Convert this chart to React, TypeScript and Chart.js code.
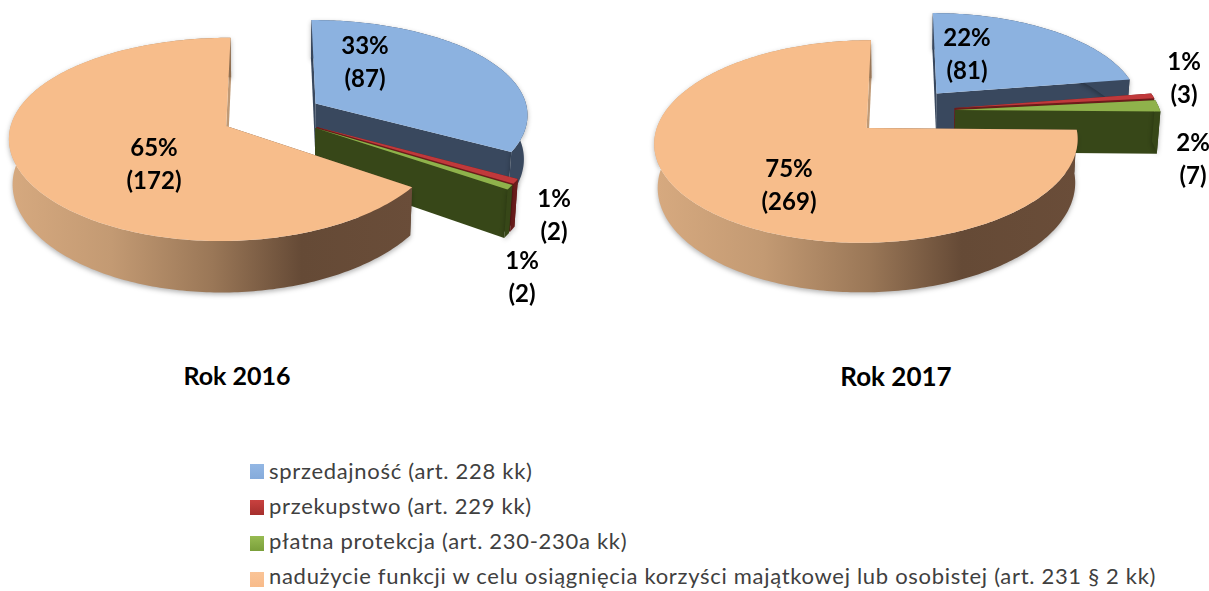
import React, { useEffect, useRef } from "react";
import { Chart, registerables } from "chart.js";

Chart.register(...registerables);

const categories = [
  "sprzedajność (art. 228 kk)",
  "przekupstwo (art. 229 kk)",
  "płatna protekcja (art. 230-230a kk)",
  "nadużycie funkcji w celu osiągnięcia korzyści majątkowej lub osobistej (art. 231 § 2 kk)",
];
const values2016 = [87, 2, 2, 172];
const values2017 = [81, 3, 7, 269];
const percents2016 = [33, 1, 1, 65];
const percents2017 = [22, 1, 2, 75];
const titles = ["Rok 2016", "Rok 2017"];

const topColors = ["#8cb2e0", "#c0393b", "#8fb24b", "#f7bd8b"];
const wallColors = ["#39485e", "#6b1c1b", "#374718", "#c09a76"];
const swatches = [
  "linear-gradient(#93b7e4,#85abdb)",
  "linear-gradient(#c9413f,#a52f2d)",
  "linear-gradient(#97bb52,#7a9f3a)",
  "linear-gradient(#fac497,#f8bb8a)",
];
const rimStops: [number, string][] = [
  [0, "#d6a97f"],
  [0.25, "#c39a73"],
  [0.5, "#9a7757"],
  [0.72, "#654a36"],
  [1, "#6a4d39"],
];

type View = {
  cx: number; cy: number; R: number; A: number; b: number; d: number; k: number; e: number; xp: number;
  rimFrom: number; rimTo: number;
  labels: [number, number][];
};

const view2016: View = {
  cx: 272, cy: 115, R: 213, A: 97, b: 0.13, d: 44, k: 0.014, e: 0.24, xp: 0.8,
  rimFrom: 10, rimTo: 415,
  labels: [[365, 46], [554, 199], [522, 261], [154, 148]],
};
const view2017: View = {
  cx: 904 - 604, cy: 111, R: 205, A: 95, b: 0.13, d: 42, k: 0.014, e: 0.25, xp: 1,
  rimFrom: 54, rimTo: 476,
  labels: [[363, 38], [580, 62], [589, 143], [185, 169]],
};

const labelFont = "bold 24px Lato, Carlito, sans-serif";

function makePlugin(view: View, percents: number[]) {
  const project = (X: number, Y: number, z: number): [number, number] => {
    const P = 1 / (1 - view.b * Y);
    return [
      view.cx + view.R * X * Math.pow(P, view.xp) * (1 - view.k * z),
      view.cy + view.A * Y * P + view.d * z * P,
    ];
  };
  return {
    id: "pie3d",
    beforeDatasetsDraw(chart: any) {
      const ctx: CanvasRenderingContext2D = chart.ctx;
      const meta = chart.getDatasetMeta(0);
      meta.data.forEach((arc: any, i: number) => {
        const { startAngle, endAngle } = arc.getProps(["startAngle", "endAngle"], true);
        const mid = (startAngle + endAngle) / 2;
        const ox = view.e * Math.cos(mid);
        const oy = view.e * Math.sin(mid);
        const n = Math.max(4, Math.ceil((endAngle - startAngle) * 60));
        const edge = (z: number) => {
          const pts: [number, number][] = [];
          for (let j = 0; j <= n; j++) {
            const t = startAngle + ((endAngle - startAngle) * j) / n;
            pts.push(project(ox + Math.cos(t), oy + Math.sin(t), z));
          }
          return pts;
        };
        const fillPoly = (pts: [number, number][], color: string | CanvasGradient) => {
          ctx.beginPath();
          pts.forEach((p, j) => (j ? ctx.lineTo(p[0], p[1]) : ctx.moveTo(p[0], p[1])));
          ctx.closePath();
          ctx.fillStyle = color;
          ctx.fill();
        };
        const top = edge(0);
        const bottom = edge(1);
        const a0 = project(ox, oy, 0);
        const a1 = project(ox, oy, 1);
        fillPoly([a0, top[0], bottom[0], a1], i === 3 ? "#6a4d39" : wallColors[i]);
        fillPoly([a0, top[n], bottom[n], a1], wallColors[i]);
        ctx.save();
        ctx.shadowColor = "rgba(0,0,0,0.3)";
        ctx.shadowBlur = 5;
        ctx.shadowOffsetY = 2;
        let rim: string | CanvasGradient = wallColors[i];
        if (i === 3) {
          const g = ctx.createLinearGradient(view.rimFrom, 0, view.rimTo, 0);
          rimStops.forEach(([s, c]) => g.addColorStop(s, c));
          rim = g;
        }
        fillPoly([...top, ...bottom.slice().reverse()], rim);
        ctx.restore();
        fillPoly([a0, ...top], topColors[i]);
      });
      return false;
    },
    afterDraw(chart: any) {
      const ctx: CanvasRenderingContext2D = chart.ctx;
      const vals: number[] = chart.data.datasets[0].data;
      ctx.save();
      ctx.font = labelFont;
      ctx.fillStyle = "#000";
      ctx.textAlign = "center";
      ctx.textBaseline = "middle";
      vals.forEach((v, i) => {
        const [x, y] = view.labels[i];
        ctx.fillText(`${percents[i]}%`, x, y);
        ctx.fillText(`(${v})`, x, y + 33);
      });
      ctx.restore();
    },
  };
}

function Pie({ values, percents, view, left, width }: any) {
  const ref = useRef<HTMLCanvasElement>(null);
  useEffect(() => {
    const chart = new Chart(ref.current!, {
      type: "pie",
      data: {
        labels: categories,
        datasets: [{ data: values, backgroundColor: topColors }],
      },
      options: {
        responsive: false,
        animation: false,
        rotation: 0,
        plugins: { legend: { display: false }, tooltip: { enabled: false } },
      },
      plugins: [makePlugin(view, percents)],
    } as any);
    return () => chart.destroy();
  }, []);
  return (
    <canvas
      ref={ref}
      width={width}
      height={340}
      style={{ position: "absolute", left, top: 0, width, height: 340 }}
    />
  );
}

const textBase: React.CSSProperties = {
  position: "absolute",
  fontFamily: "Lato, Carlito, sans-serif",
  whiteSpace: "nowrap",
};

export default function App() {
  const swatchTops = [464, 500, 536, 572];
  const textTops = [458, 493, 528, 563];
  return (
    <div style={{ position: "fixed", left: 0, top: 0, width: 1209, height: 591, background: "#fff", overflow: "hidden" }}>
      <Pie values={values2016} percents={percents2016} view={view2016} left={0} width={604} />
      <Pie values={values2017} percents={percents2017} view={view2017} left={604} width={605} />
      {titles.map((t, i) => (
        <div
          key={t}
          style={{
            ...textBase,
            left: i ? 796 : 137,
            width: 200,
            top: i ? 361 : 360,
            textAlign: "center",
            fontWeight: 700,
            fontSize: i ? 26 : 25,
            lineHeight: "30px",
            color: "#000",
          }}
        >
          {t}
        </div>
      ))}
      {categories.map((c, i) => (
        <React.Fragment key={c}>
          <div style={{ position: "absolute", left: 250, top: swatchTops[i], width: 14, height: 15, background: swatches[i] }} />
          <div
            style={{
              ...textBase,
              left: 269,
              top: textTops[i],
              fontSize: 22,
              letterSpacing: 0.7,
              lineHeight: "26px",
              color: "#404040",
            }}
          >
            {c}
          </div>
        </React.Fragment>
      ))}
    </div>
  );
}
